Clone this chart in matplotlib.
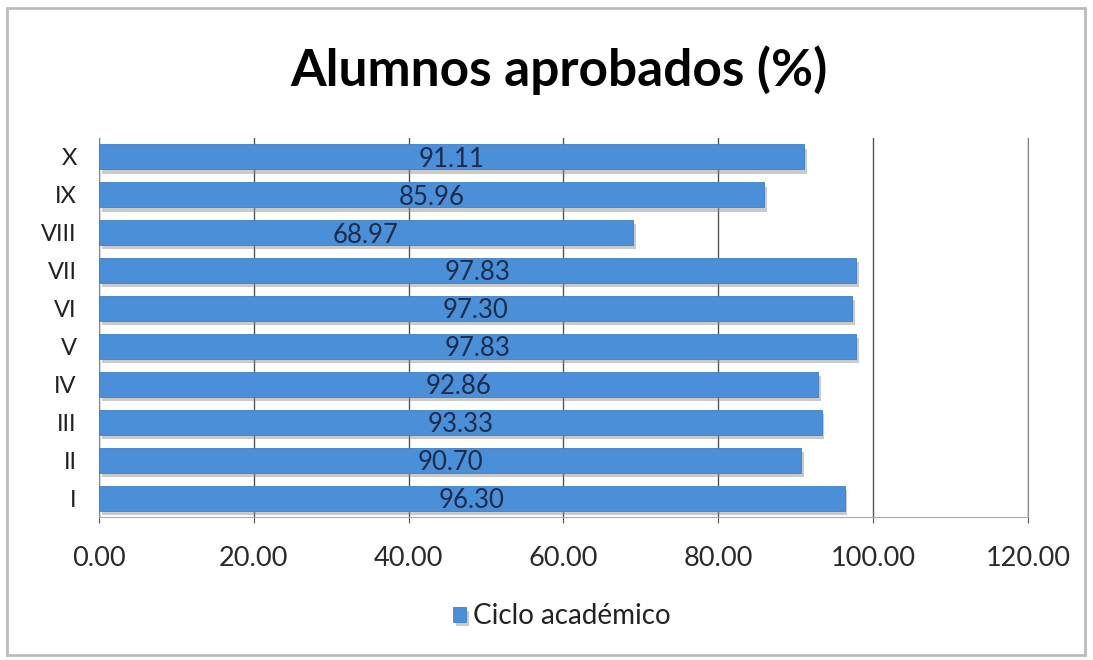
import matplotlib.pyplot as plt
import matplotlib.patheffects as pe
from matplotlib.patches import Rectangle
import numpy as np

ciclos = ['I', 'II', 'III', 'IV', 'V', 'VI', 'VII', 'VIII', 'IX', 'X']
aprobados = [96.30, 90.70, 93.33, 92.86, 97.83, 97.30, 97.83, 68.97, 85.96, 91.11]
serie = 'Ciclo académico'
xticks = [0, 20, 40, 60, 80, 100, 120]

plt.rcParams['font.family'] = ['Lato', 'DejaVu Sans']

fig = plt.figure(figsize=(10.93, 6.60), dpi=100)
ax = fig.add_axes([0.0906, 0.2167, 0.8499, 0.5742])

y = np.arange(len(ciclos))
bars = ax.barh(y, aprobados, height=0.66, color='#4a8fd8', edgecolor='#3f7fc6',
               linewidth=0.6, label=serie, zorder=3)
for b in bars:
    b.set_path_effects([pe.SimplePatchShadow(offset=(2, -3), shadow_rgbFace='#8a8a8a', alpha=0.45),
                        pe.Normal()])

for yi, v in zip(y, aprobados):
    ax.text(v / 2, yi - 0.06, f'{v:.2f}', ha='center', va='center',
            fontsize=18.5, color='#1c2c4c', zorder=4)

ax.set_xlim(0, 120)
ax.set_ylim(-0.5, 9.5)
ax.set_xticks(xticks)
ax.set_xticklabels([f'{t:.2f}' for t in xticks], fontsize=19.5, color='#2a2a2a')
ax.set_yticks(y)
ax.set_yticklabels(ciclos, fontsize=17, color='#222222')
ax.tick_params(axis='x', length=4, pad=17, color='#555555')
ax.tick_params(axis='y', length=0, pad=16)

ax.grid(axis='x', color='#555555', linewidth=1.0, zorder=0)
ax.spines['top'].set_visible(False)
ax.spines['left'].set_color('#888888')
ax.spines['bottom'].set_color('#aaaaaa')
ax.spines['right'].set_color('#888888')

fig.suptitle('Alumnos aprobados (%)', x=0.511, y=0.932, fontsize=37,
             fontweight='bold', color='black')

fig.legend(loc='center', bbox_to_anchor=(0.514, 0.066), frameon=False,
           fontsize=20, handlelength=0.45, handleheight=0.45, handletextpad=0.25,
           labelcolor='#222222')

# outer frame around the whole chart
fig.patches.append(Rectangle((0.006, 0.008), 0.987, 0.98, transform=fig.transFigure,
                             fill=False, edgecolor='#bbbbbb', linewidth=2))

fig.savefig('out.png', dpi=100, facecolor='white')
